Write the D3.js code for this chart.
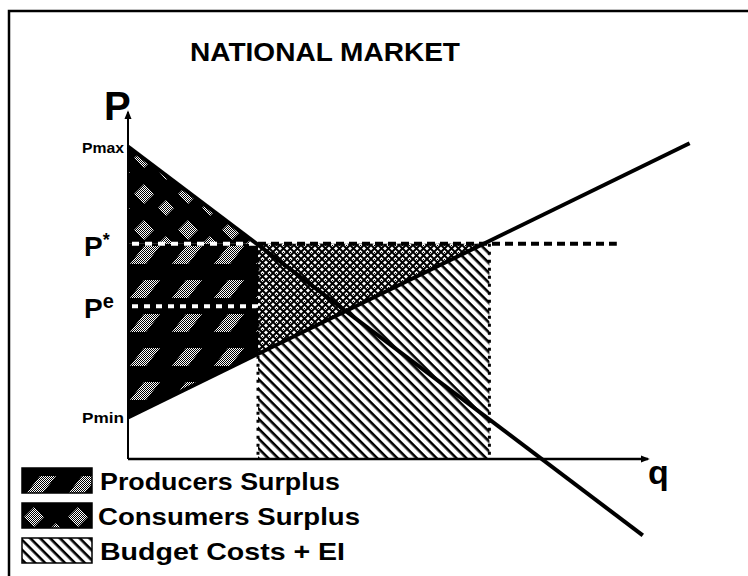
<!DOCTYPE html>
<html>
<head>
<meta charset="utf-8">
<script src="https://cdn.jsdelivr.net/npm/d3@7"></script>
<style>
  body { margin: 0; background: #fff; }
  text { font-family: "Liberation Sans", Arial, sans-serif; font-weight: bold; fill: #000; }
</style>
</head>
<body>
<div id="content"></div>
<script>
var width = 748, height = 576

// chart values (price / quantity units)
var title = 'NATIONAL MARKET'
var pMax = 90, pStar = 62, pE = 44, pMin = 12
var supply = [[0, 12], [108, 91]]
var demand = [[0, 90], [99, -22]]
var qD = 25      // demand at P*
var qS = 69.5    // edge of the budget block
var priceLabels = [
  {name: 'Pmax', p: pMax, small: true},
  {name: 'P*', p: pStar},
  {name: 'Pe', p: pE},
  {name: 'Pmin', p: pMin, small: true}
]
var legendItems = ['Producers Surplus', 'Consumers Surplus', 'Budget Costs + EI']
var legendFills = ['url(#psPat)', 'url(#csPat)', 'url(#budPat)']
var legendWidths = [240, 262, 245]

var x = d3.scaleLinear().domain([0, 100]).range([128, 648])
var y = d3.scaleLinear().domain([0, 100]).range([459, 112])

var sSlope = (supply[1][1] - supply[0][1]) / (supply[1][0] - supply[0][0])
var sAt = q => supply[0][1] + sSlope * q
var qSstar = (pStar - supply[0][1]) / sSlope

var svg = d3.select('#content')
    .append('svg')
    .attr('width', width)
    .attr('height', height)

var defs = svg.append('defs')

// fine gray checker
var chk = defs.append('pattern').attr('id', 'chk')
    .attr('patternUnits', 'userSpaceOnUse').attr('width', 2).attr('height', 2)
chk.append('rect').attr('width', 2).attr('height', 2).attr('fill', '#fff')
chk.append('rect').attr('width', 1).attr('height', 1).attr('fill', '#000')
chk.append('rect').attr('x', 1).attr('y', 1).attr('width', 1).attr('height', 1).attr('fill', '#000')

// consumers surplus: black with checker diamonds
var cs = defs.append('pattern').attr('id', 'csPat')
    .attr('patternUnits', 'userSpaceOnUse').attr('width', 44).attr('height', 36)
cs.append('rect').attr('width', 44).attr('height', 36).attr('fill', '#000')
cs.append('path').attr('d', 'M12,4L22,14L12,24L2,14Z M34,20L42,28L34,36L26,28Z').attr('fill', 'url(#chk)')

// producers surplus: black with checker bands
var ps = defs.append('pattern').attr('id', 'psPat')
    .attr('patternUnits', 'userSpaceOnUse').attr('width', 42).attr('height', 34)
ps.append('rect').attr('width', 42).attr('height', 34).attr('fill', '#000')
ps.append('path').attr('d', 'M4,26L18,8L34,8L20,26Z').attr('fill', 'url(#chk)')

// budget costs: diagonal hatch
var bud = defs.append('pattern').attr('id', 'budPat')
    .attr('patternUnits', 'userSpaceOnUse').attr('width', 7).attr('height', 7)
    .attr('patternTransform', 'rotate(45)')
bud.append('rect').attr('width', 7).attr('height', 7).attr('fill', '#fff')
bud.append('rect').attr('width', 7).attr('height', 2.6).attr('fill', '#000')

// overlap: mesh
var mesh = defs.append('pattern').attr('id', 'meshPat')
    .attr('patternUnits', 'userSpaceOnUse').attr('width', 7).attr('height', 7)
mesh.append('rect').attr('width', 7).attr('height', 7).attr('fill', '#fff')
mesh.append('path').attr('d', 'M0,0L7,7M7,0L0,7').attr('stroke', '#000').attr('stroke-width', 2)
mesh.append('rect').attr('x', 3).attr('y', 0).attr('width', 1).attr('height', 1).attr('fill', '#000')

defs.append('marker')
    .attr('id', 'arrow')
    .attr('viewBox', '0 -5 10 10')
    .attr('refX', 8)
    .attr('markerUnits', 'userSpaceOnUse')
    .attr('markerWidth', 9)
    .attr('markerHeight', 9)
    .attr('orient', 'auto')
    .append('path')
    .attr('d', 'M0,-4L10,0L0,4Z')

// frame
svg.append('rect')
    .attr('x', 9).attr('y', 11)
    .attr('width', 760).attr('height', 600)
    .attr('fill', 'none').attr('stroke', '#000').attr('stroke-width', 2.5)

svg.append('text')
    .attr('x', 190).attr('y', 61)
    .attr('font-size', 26)
    .attr('textLength', 270)
    .attr('lengthAdjust', 'spacingAndGlyphs')
    .text(title)

var pt = d => [x(d[0]), y(d[1])]
var line = d3.line()

// shaded areas
svg.append('path')
    .attr('d', line([[qD, pStar], [qD, 0], [qS, 0], [qS, pStar]].map(pt)) + 'Z')
    .attr('fill', 'url(#budPat)')
svg.append('path')
    .attr('d', line([[qD, pStar], [qSstar, pStar], [qD, sAt(qD)]].map(pt)) + 'Z')
    .attr('fill', 'url(#meshPat)')
svg.append('path')
    .attr('d', line([[0, pStar], [qD, pStar], [qD, sAt(qD)], [0, pMin]].map(pt)) + 'Z')
    .attr('fill', 'url(#psPat)')
svg.append('path')
    .attr('d', line([[0, pMax], [qD, pStar], [0, pStar]].map(pt)) + 'Z')
    .attr('fill', 'url(#csPat)')

// dashed guides
svg.append('line')
    .attr('x1', x(0) + 4).attr('x2', x(qD)).attr('y1', y(pStar)).attr('y2', y(pStar))
    .attr('stroke', '#fff').attr('stroke-width', 4).attr('stroke-dasharray', '7,6')
svg.append('line')
    .attr('x1', x(qD)).attr('x2', x(94)).attr('y1', y(pStar)).attr('y2', y(pStar))
    .attr('stroke', '#000').attr('stroke-width', 4).attr('stroke-dasharray', '8,5')
svg.append('line')
    .attr('x1', x(0) + 4).attr('x2', x(qD)).attr('y1', y(pE)).attr('y2', y(pE))
    .attr('stroke', '#fff').attr('stroke-width', 4).attr('stroke-dasharray', '6,6')
;[qD, qS].forEach(q => {
  svg.append('line')
      .attr('x1', x(q)).attr('x2', x(q)).attr('y1', y(pStar)).attr('y2', y(0))
      .attr('stroke', '#000').attr('stroke-width', 3).attr('stroke-dasharray', '3,5')
})

// curves
svg.append('path').attr('d', line(supply.map(pt)))
    .attr('stroke', '#000').attr('stroke-width', 4).attr('fill', 'none')
svg.append('path').attr('d', line(demand.map(pt)))
    .attr('stroke', '#000').attr('stroke-width', 4).attr('fill', 'none')

// axes
svg.append('line')
    .attr('x1', x(0)).attr('y1', y(0)).attr('x2', x(100)).attr('y2', y(0))
    .attr('stroke', '#000').attr('stroke-width', 2.5).attr('marker-end', 'url(#arrow)')
svg.append('line')
    .attr('x1', x(0)).attr('y1', y(0)).attr('x2', x(0)).attr('y2', y(100))
    .attr('stroke', '#000').attr('stroke-width', 2).attr('marker-end', 'url(#arrow)')

svg.append('text').attr('x', 104).attr('y', 120).attr('font-size', 40).text('P')
svg.append('text').attr('x', 648).attr('y', 484).attr('font-size', 34).text('q')

// price labels
priceLabels.forEach(d => {
  if (d.small) {
    svg.append('text')
        .attr('x', 82).attr('y', y(d.p) + 6)
        .attr('font-size', 14)
        .attr('textLength', 42).attr('lengthAdjust', 'spacingAndGlyphs')
        .text(d.name)
  } else {
    var t = svg.append('text').attr('x', 84).attr('y', y(d.p) + 12).attr('font-size', 28)
    t.append('tspan').text(d.name[0])
    t.append('tspan').attr('font-size', d.name[1] == '*' ? 18 : 20).attr('dy', -10).text(d.name[1])
  }
})

// legend
var leg = svg.append('g').selectAll('g')
    .data(legendItems)
    .join('g')
    .attr('transform', (d, i) => `translate(22,${468 + i * 35})`)
leg.append('rect')
    .attr('width', 70).attr('height', 25)
    .attr('fill', (d, i) => legendFills[i])
    .attr('stroke', '#000').attr('stroke-width', 1.5)
leg.append('text')
    .attr('x', (d, i) => i == 1 ? 76 : 78).attr('y', 22)
    .attr('font-size', 24)
    .attr('textLength', (d, i) => legendWidths[i])
    .attr('lengthAdjust', 'spacingAndGlyphs')
    .text(d => d)
</script>
</body>
</html>
